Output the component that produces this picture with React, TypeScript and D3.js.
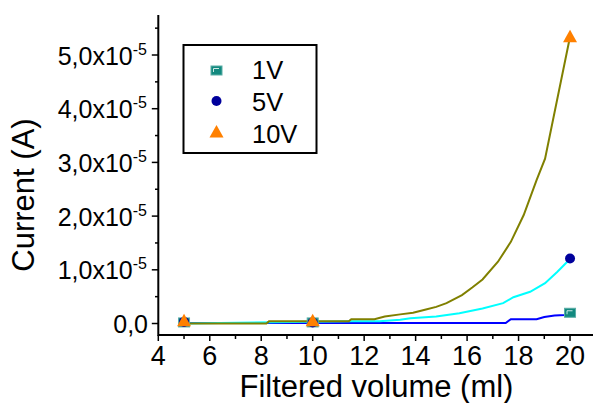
import React from "react";
import * as d3 from "d3";

const seriesNames = ["1V", "5V", "10V"];

// line data (x in ml, y in units of 1e-5 A)
const line1VX = [5, 10, 17.5, 17.7, 18.7, 19.0, 19.4, 19.8, 20];
const line1VY = [0.01, 0.01, 0.01, 0.08, 0.08, 0.12, 0.15, 0.16, 0.2];
const line5VX = [5, 11.5, 12.6, 13.4, 13.8, 14.8, 15.7, 16.6, 17.4, 17.8, 18.45, 19.03, 19.5, 20];
const line5VY = [0, 0.04, 0.04, 0.07, 0.1, 0.13, 0.19, 0.28, 0.38, 0.49, 0.59, 0.75, 0.96, 1.2];
const line10VX = [5, 8.2, 8.3, 11.4, 11.5, 12.4, 12.8, 13.4, 13.9, 14.4, 14.8, 15.2, 15.8, 16.2, 16.6, 17.2, 17.7, 18.2, 18.7, 19.03, 20];
const line10VY = [0, 0, 0.04, 0.04, 0.08, 0.08, 0.13, 0.17, 0.2, 0.26, 0.31, 0.38, 0.53, 0.67, 0.82, 1.15, 1.52, 2.02, 2.67, 3.07, 5.34];

// marker data
const markerX = [5, 10, 20];
const marker1VY = [0.02, 0.02, 0.2];
const marker5VY = [0.03, 0.02, 1.21];
const marker10VY = [0.05, 0.05, 5.34];

const xTicks = [4, 6, 8, 10, 12, 14, 16, 18, 20];
const xMinorTicks = [5, 7, 9, 11, 13, 15, 17, 19];
const yTicks = [0, 1, 2, 3, 4, 5];
const yTickMantissa = ["0,0", "1,0", "2,0", "3,0", "4,0", "5,0"];
const yMinorTicks = [0.5, 1.5, 2.5, 3.5, 4.5, 5.5];

const FONT = "'Liberation Sans', Arial, sans-serif";

const x = d3.scaleLinear().domain([4, 20.85]).range([158.3, 591.9]);
const y = d3.scaleLinear().domain([-0.214, 5.745]).range([335, 15]);

function Square({ cx, cy }: { cx: number; cy: number }) {
  return (
    <g>
      <rect x={cx - 5.5} y={cy - 4.5} width={11} height={9} fill="#12897f" stroke="#5aaea6" strokeWidth={1} />
      <path d={`M${cx - 3},${cy + 1.5} V${cy - 2} H${cx + 2.5}`} fill="none" stroke="#cfe9e6" strokeWidth={1} />
    </g>
  );
}
function Circle({ cx, cy }: { cx: number; cy: number }) {
  return <circle cx={cx} cy={cy} r={5} fill="#00009c" />;
}
function Tri({ cx, cy }: { cx: number; cy: number }) {
  return <path d={`M${cx},${cy - 7} L${cx + 7},${cy + 5.5} L${cx - 7},${cy + 5.5} Z`} fill="#ff8000" />;
}

export default function App() {
  const mk = (xs: number[], ys: number[]) =>
    d3.line<number>().x((_, i) => x(xs[i])).y((_, i) => y(ys[i]))(xs.map((_, i) => i)) || "";

  return (
    <svg width={593} height={403} style={{ position: "absolute", left: 0, top: 0 }} fontFamily={FONT}>
      <rect width={593} height={403} fill="white" />
      {/* lines */}
      <path d={mk(line1VX, line1VY)} fill="none" stroke="#0000ff" strokeWidth={2} />
      <path d={mk(line5VX, line5VY)} fill="none" stroke="#00ffff" strokeWidth={2} />
      <path d={mk(line10VX, line10VY)} fill="none" stroke="#808000" strokeWidth={2} />
      {/* markers */}
      {markerX.map((v, i) => <Square key={"s" + i} cx={x(v)} cy={y(marker1VY[i])} />)}
      {markerX.map((v, i) => <Circle key={"c" + i} cx={x(v)} cy={y(marker5VY[i])} />)}
      {markerX.map((v, i) => <Tri key={"t" + i} cx={x(v)} cy={y(marker10VY[i])} />)}

      {/* axes */}
      <line x1={x.range()[0]} x2={593} y1={335} y2={335} stroke="black" strokeWidth={2} />
      <line x1={158.3} x2={158.3} y1={15} y2={336} stroke="black" strokeWidth={2} />
      {xTicks.map((t) => (
        <g key={"xt" + t}>
          <line x1={x(t)} x2={x(t)} y1={335} y2={341} stroke="black" strokeWidth={1.5} />
          <text x={x(t)} y={365} textAnchor="middle" fontSize={27}>{t}</text>
        </g>
      ))}
      {xMinorTicks.map((t) => (
        <line key={"xm" + t} x1={x(t)} x2={x(t)} y1={335} y2={339} stroke="black" strokeWidth={1.5} />
      ))}
      {yTicks.map((t, i) => (
        <g key={"yt" + t}>
          <line x1={151.8} x2={158.3} y1={y(t)} y2={y(t)} stroke="black" strokeWidth={1.5} />
          <text x={t === 0 ? 148 : 147} y={y(t) + 9.5} textAnchor="end" fontSize={25}>
            {t === 0 ? (
              yTickMantissa[i]
            ) : (
              <>
                <tspan>{yTickMantissa[i] + "x10"}</tspan>
                <tspan dy={-10} fontSize={16}>-5</tspan>
              </>
            )}
          </text>
        </g>
      ))}
      {yMinorTicks.map((t) => (
        <line key={"ym" + t} x1={155} x2={158.3} y1={y(t)} y2={y(t)} stroke="black" strokeWidth={1.5} />
      ))}

      {/* axis titles */}
      <text x={376.5} y={397} textAnchor="middle" fontSize={31}>Filtered volume (ml)</text>
      <text transform="translate(34,195) rotate(-90)" textAnchor="middle" fontSize={31}>Current (A)</text>

      {/* legend */}
      <rect x={183.5} y={45} width={133} height={108} fill="none" stroke="black" strokeWidth={2} />
      <Square cx={216.5} cy={70.5} />
      <Circle cx={216.5} cy={101} />
      <Tri cx={216.5} cy={132} />
      <text x={252} y={79} fontSize={25.5}>{seriesNames[0]}</text>
      <text x={252} y={111} fontSize={25.5}>{seriesNames[1]}</text>
      <text x={252} y={143} fontSize={25.5}>{seriesNames[2]}</text>
    </svg>
  );
}
